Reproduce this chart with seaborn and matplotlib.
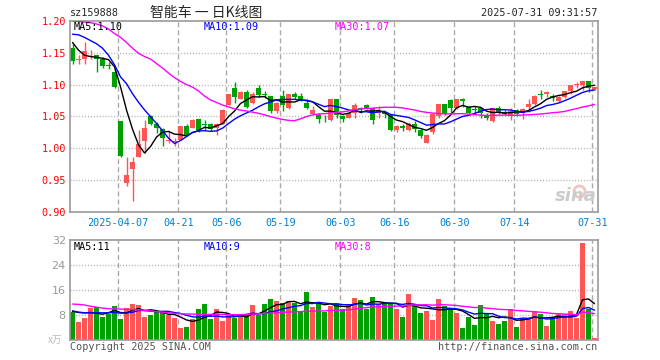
import numpy as np
import pandas as pd
import matplotlib
matplotlib.use('Agg')
import matplotlib.pyplot as plt
import seaborn as sns

# daily candles, 2025-03-25 .. 2025-07-31 (88 trading days)
opens = [1.158, 1.139, 1.140, 1.143, 1.146, 1.140, 1.130, 1.120, 1.043, 0.946,
         0.968, 0.986, 1.011, 1.050, 1.038, 1.030, 1.011, 1.010, 1.013, 1.035,
         1.032, 1.046, 1.038, 1.039, 1.032, 1.038, 1.068, 1.095, 1.077, 1.088,
         1.071, 1.095, 1.086, 1.082, 1.058, 1.082, 1.063, 1.085, 1.082, 1.071,
         1.054, 1.053, 1.046, 1.044, 1.077, 1.051, 1.048, 1.055, 1.064, 1.068,
         1.063, 1.056, 1.057, 1.052, 1.029, 1.035, 1.029, 1.038, 1.029, 1.009,
         1.025, 1.050, 1.069, 1.076, 1.063, 1.078, 1.065, 1.0605, 1.064, 1.053,
         1.043, 1.064, 1.057, 1.053, 1.060, 1.056, 1.065, 1.069, 1.0845, 1.086,
         1.082, 1.074, 1.080, 1.0895, 1.0995, 1.099, 1.105, 1.093]
highs = [1.163, 1.146, 1.167, 1.154, 1.146, 1.144, 1.136, 1.127, 1.043, 0.986,
         0.986, 1.029, 1.044, 1.053, 1.041, 1.032, 1.027, 1.016, 1.035, 1.038,
         1.046, 1.046, 1.045, 1.040, 1.040, 1.061, 1.086, 1.104, 1.090, 1.092,
         1.089, 1.100, 1.090, 1.082, 1.073, 1.091, 1.086, 1.089, 1.087, 1.077,
         1.066, 1.055, 1.052, 1.078, 1.078, 1.052, 1.057, 1.071, 1.065, 1.069,
         1.065, 1.066, 1.058, 1.053, 1.036, 1.039, 1.042, 1.043, 1.030, 1.022,
         1.055, 1.070, 1.070, 1.077, 1.078, 1.079, 1.067, 1.066, 1.065, 1.055,
         1.064, 1.066, 1.060, 1.064, 1.061, 1.063, 1.077, 1.083, 1.091, 1.090,
         1.085, 1.082, 1.090, 1.100, 1.104, 1.105, 1.105, 1.097]
lows = [1.132, 1.132, 1.132, 1.140, 1.119, 1.126, 1.124, 1.094, 0.986, 0.941,
        0.917, 0.986, 0.993, 1.036, 1.024, 1.003, 1.008, 1.004, 1.013, 1.019,
        1.032, 1.025, 1.029, 1.027, 1.021, 1.038, 1.068, 1.071, 1.077, 1.063,
        1.070, 1.081, 1.079, 1.056, 1.056, 1.058, 1.061, 1.077, 1.074, 1.061,
        1.053, 1.040, 1.041, 1.043, 1.048, 1.042, 1.047, 1.047, 1.055, 1.061,
        1.038, 1.048, 1.048, 1.028, 1.025, 1.027, 1.027, 1.025, 1.017, 1.008,
        1.023, 1.048, 1.052, 1.054, 1.061, 1.065, 1.052, 1.054, 1.048, 1.044,
        1.041, 1.054, 1.052, 1.045, 1.050, 1.046, 1.057, 1.068, 1.078, 1.080,
        1.0745, 1.073, 1.079, 1.086, 1.095, 1.091, 1.0885, 1.092]
closes = [1.137, 1.140, 1.152, 1.145, 1.140, 1.129, 1.1295, 1.096, 0.988, 0.958,
          0.979, 1.007, 1.032, 1.039, 1.032, 1.017, 1.013, 1.011, 1.035, 1.021,
          1.044, 1.029, 1.036, 1.030, 1.038, 1.060, 1.085, 1.080, 1.089, 1.065,
          1.086, 1.083, 1.083, 1.058, 1.071, 1.068, 1.085, 1.081, 1.076, 1.064,
          1.060, 1.046, 1.0455, 1.077, 1.052, 1.046, 1.055, 1.068, 1.062, 1.063,
          1.044, 1.060, 1.054, 1.029, 1.035, 1.032, 1.038, 1.031, 1.020, 1.021,
          1.054, 1.069, 1.054, 1.063, 1.077, 1.074, 1.055, 1.060, 1.056, 1.047,
          1.063, 1.057, 1.054, 1.059, 1.054, 1.061, 1.069, 1.082, 1.084, 1.0885,
          1.079, 1.081, 1.0895, 1.099, 1.100, 1.105, 1.095, 1.096]
# volume, 万
volume = [9.05, 5.9, 7.2, 10.3, 10.8, 7.5, 8.4, 10.9, 6.8, 10.3,
          11.6, 11.3, 7.5, 8.1, 9.0, 9.0, 8.0, 7.2, 4.0, 4.3,
          6.8, 10.0, 11.6, 6.8, 10.0, 6.2, 8.2, 7.2, 7.7, 8.0,
          11.3, 8.2, 11.6, 13.2, 12.6, 11.9, 12.6, 11.9, 9.5, 15.4,
          10.6, 12.2, 9.2, 11.0, 11.9, 10.0, 11.6, 13.5, 12.8, 10.1,
          13.8, 11.6, 11.9, 11.9, 10.1, 7.5, 14.7, 11.0, 8.7, 9.4,
          6.5, 13.2, 11.0, 10.0, 8.7, 4.0, 7.5, 4.9, 11.3, 8.4,
          6.2, 5.3, 6.2, 10.0, 4.3, 6.8, 6.8, 9.4, 8.4, 4.6,
          7.5, 8.7, 8.4, 9.4, 7.2, 31.2, 10.0, 0.8]

# moving averages before a full window exists
ma5_head = [1.166, 1.154, 1.146, 1.144]
ma10_head = [1.179, 1.178, 1.174, 1.169, 1.164, 1.157, 1.146, 1.131, 1.112]
ma30_head = [1.200, 1.199, 1.198, 1.197, 1.195, 1.192, 1.187, 1.180, 1.174, 1.166,
             1.157, 1.149, 1.144, 1.140, 1.133, 1.126, 1.118, 1.111, 1.105, 1.100,
             1.096, 1.090, 1.082, 1.076, 1.072, 1.068, 1.065, 1.062, 1.060]
vma5_head = [9.3, 8.9, 8.8, 8.9]
vma10_head = [9.4, 9.0, 8.8, 8.8, 8.8, 8.8, 8.8, 8.9, 8.7]
vma30_head = [11.6, 11.5, 11.3, 10.9, 10.6, 10.3, 10.1, 10.0, 10.0, 9.9,
              9.8, 9.7, 9.6, 9.4, 9.2, 9.0, 8.8, 8.6, 8.5, 8.4,
              8.4, 8.3, 8.3, 8.3, 8.3, 8.3, 8.2, 8.2, 8.2]

tick_idx = [8, 18, 26, 35, 45, 54, 64, 74, 87]
tick_labels = ['2025-04-07', '04-21', '05-06', '05-19', '06-03', '06-16', '06-30', '07-14', '07-31']
price_ticks = [0.90, 0.95, 1.00, 1.05, 1.10, 1.15, 1.20]
vol_ticks = [8, 16, 24, 32]

df = pd.DataFrame({'open': opens, 'high': highs, 'low': lows, 'close': closes, 'vol': volume})
df['i'] = np.arange(len(df))


def moving(s, n, head):
    m = s.rolling(n).mean()
    m.iloc[:n - 1] = head
    return m


df['ma5'] = moving(df['close'], 5, ma5_head)
df['ma10'] = moving(df['close'], 10, ma10_head)
df['ma30'] = moving(df['close'], 30, ma30_head)
df['vma5'] = moving(df['vol'], 5, vma5_head)
df['vma10'] = moving(df['vol'], 10, vma10_head)
df['vma30'] = moving(df['vol'], 30, vma30_head)

RED = '#ff5555'
GREEN = '#00a000'
GRID = '#aaaaaa'
up = df['close'] >= df['open']
colors = np.where(up, RED, GREEN)

sns.set_style('white')
plt.rcParams['font.family'] = ['DejaVu Sans Mono', 'Noto Sans CJK SC']

fig = plt.figure(figsize=(6.6, 3.6), dpi=100)
ax = fig.add_axes([70 / 660, (360 - 212.2) / 360, 528 / 660, 191.4 / 360])
axv = fig.add_axes([70 / 660, (360 - 340.3) / 360, 528 / 660, 100 / 360])

grid_x = [t - 0.37 for t in tick_idx]
for a in (ax, axv):
    for gx in grid_x:
        a.axvline(gx, color=GRID, lw=1, ls=(0, (3.6, 2.2)), zorder=0)
    for s in a.spines.values():
        s.set_color('#999999')
        s.set_linewidth(1.2)
    a.set_xlim(-0.42, 87.58)

for y in price_ticks[1:-1]:
    ax.axhline(y, color=GRID, lw=1, ls=(0, (0.7, 1.4)), zorder=0)
for y in vol_ticks[:-1]:
    axv.axhline(y, color=GRID, lw=1, ls=(0, (0.7, 1.4)), zorder=0)

# sina watermark
ax.plot([84.4], [0.934], marker='o', ms=8, mfc='none', mec='#f2c4c4', mew=2, zorder=1)
ax.text(87.3, 0.912, 'sina', fontsize=13, ha='right', va='bottom', color='#cccccc',
        style='italic', weight='bold', family='DejaVu Sans', zorder=1)

# candles
ax.vlines(df['i'], df['low'], df['high'], colors=colors, lw=1, zorder=2)
body = np.maximum((df['close'] - df['open']).abs(), 0.0012)
ax.bar(df['i'], body, bottom=np.minimum(df['open'], df['close']), width=0.83,
       color=colors, linewidth=0, zorder=2)

sns.lineplot(x=df['i'], y=df['ma5'], ax=ax, color='black', lw=1, zorder=3)
sns.lineplot(x=df['i'], y=df['ma10'], ax=ax, color='#0000ff', lw=1, zorder=3)
sns.lineplot(x=df['i'], y=df['ma30'], ax=ax, color='#ff00ff', lw=1, zorder=3)
ax.set_ylim(0.90, 1.20)
ax.set_yticks(price_ticks)
ax.set_yticklabels(['%.2f' % p for p in price_ticks], color='red', fontsize=7.3)
ax.set_xticks(grid_x)
ax.set_xticklabels(tick_labels, color='#0080d0', fontsize=7.3)
ax.tick_params(length=0, pad=3)
ax.tick_params(axis='x', pad=4)
ax.set_xlabel('')
ax.set_ylabel('')

# volume
axv.bar(df['i'], df['vol'], width=0.83, color=colors, linewidth=0, zorder=2)
sns.lineplot(x=df['i'], y=df['vma5'], ax=axv, color='black', lw=1, zorder=3)
sns.lineplot(x=df['i'], y=df['vma10'], ax=axv, color='#0000ff', lw=1, zorder=3)
sns.lineplot(x=df['i'], y=df['vma30'], ax=axv, color='#ff00ff', lw=1, zorder=3)
axv.set_ylim(0, 32)
axv.set_yticks(vol_ticks)
axv.set_yticklabels([str(v) for v in vol_ticks], color='#999999', fontsize=8,
                    family='DejaVu Sans')
axv.set_xticks([])
axv.tick_params(length=0, pad=3)
axv.set_xlabel('')
axv.set_ylabel('')

# labels
fs = 7.3
fig.text(70 / 660, 1 - 13 / 360, 'sz159888', fontsize=fs, va='center')
fig.text(150 / 660, 1 - 13 / 360, '智能车 一 日K线图', fontsize=10, va='center',
         family=['Noto Sans CJK SC', 'DejaVu Sans'])
fig.text(597 / 660, 1 - 13 / 360, '2025-07-31 09:31:57', fontsize=fs, va='center', ha='right')
fig.text(74 / 660, 1 - 26.5 / 360, 'MA5:%.2f' % df['ma5'].iloc[-1], fontsize=fs, va='center', color='black')
fig.text(204 / 660, 1 - 26.5 / 360, 'MA10:%.2f' % df['ma10'].iloc[-1], fontsize=fs, va='center', color='#0000ff')
fig.text(335 / 660, 1 - 26.5 / 360, 'MA30:%.2f' % df['ma30'].iloc[-1], fontsize=fs, va='center', color='#ff00ff')
fig.text(74 / 660, 1 - 246.5 / 360, 'MA5:%d' % df['vma5'].iloc[-1], fontsize=fs, va='center', color='black')
fig.text(204 / 660, 1 - 246.5 / 360, 'MA10:%d' % df['vma10'].iloc[-1], fontsize=fs, va='center', color='#0000ff')
fig.text(335 / 660, 1 - 246.5 / 360, 'MA30:%d' % df['vma30'].iloc[-1], fontsize=fs, va='center', color='#ff00ff')
fig.text(48 / 660, 1 - 339.5 / 360, 'x万', fontsize=7, va='center', color='#bbbbbb',
         family=['Noto Sans CJK SC', 'DejaVu Sans'])
fig.text(70 / 660, 1 - 346.5 / 360, 'Copyright 2025 SINA.COM', fontsize=fs, va='center', color='#555555')
fig.text(597 / 660, 1 - 346.5 / 360, 'http://finance.sina.com.cn', fontsize=fs, va='center',
         ha='right', color='#555555')

fig.savefig('out.png', dpi=100)
